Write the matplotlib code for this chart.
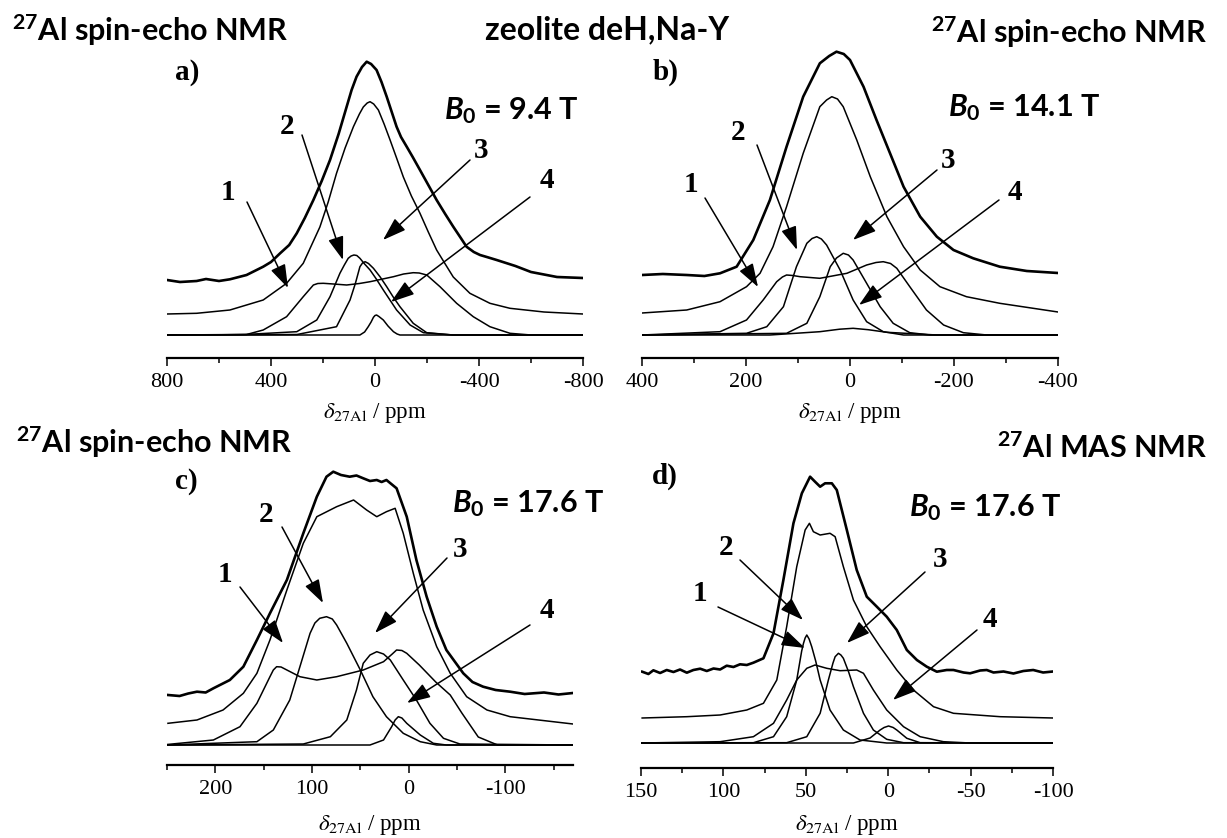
import matplotlib
matplotlib.use("Agg")
import numpy as np
import matplotlib.pyplot as plt
from matplotlib.ticker import MultipleLocator
from matplotlib.transforms import Affine2D

# ---- data: chemical shift (ppm) / intensity (a.u.) ----
# panel a) B0 = 9.4 T
a_exp_x = [800, 750, 686, 650, 600, 558, 494, 430, 400, 365, 330, 301, 270, 237, 205, 173, 140, 109, 90,
           71, 50, 32, 15, -6, -25, -45, -83, -100, -122, -145, -173, -205, -237, -270, -301, -330, -352,
           -380, -404, -430, -468, -540, -600, -700, -800]
a_exp_y = [0, -2, -1, 1, -1, 0.7, 5, 13.3, 18, 26.7, 35, 46.7, 62, 80, 99, 120, 146, 173.3, 190,
           203.3, 213, 218.3, 216, 210, 198, 183.3, 153.3, 143, 133.3, 123, 110, 95, 80, 66, 53.3, 42, 33.3,
           28, 25, 23, 20, 14, 8, 3, 2]
a_sim_x = [800, 686, 558, 430, 340, 276, 212, 180, 148, 115, 83, 60, 45, 30, 19, 5, -13, -35, -58, -83,
           -109, -140, -173, -205, -237, -270, -301, -365, -442, -519, -650, -800]
a_sim_y = [0, 0.7, 4, 14, 30.7, 50.7, 87, 112, 140.7, 166, 187.3, 200, 207, 211, 212.3, 210, 204, 190,
           174, 156, 137, 118, 100.7, 82, 64, 50, 37, 20.7, 10.7, 5.7, 2, 0]
a_c1_x = [800, 600, 494, 430, 340, 276, 237, 220, 199, 160, 109, 60, 19, -71, -110, -147, -170, -199,
          -250, -314, -378, -442, -519, -600, -800]
a_c1_y = [0, 0.2, 0.5, 5, 18.3, 38.3, 50, 51.5, 51.7, 51, 50, 51.5, 53.3, 58.3, 61, 62.3, 62, 60,
          48.3, 31.7, 18.3, 8.3, 1.7, 0, 0]
a_c2_x = [800, 500, 301, 224, 173, 135, 118, 103, 92, 81, 70, 58, 40, 19, -5, -32, -83, -135, -186, -300, -800]
a_c2_y = [0, 0.5, 3.3, 15, 38.3, 61.7, 70, 76.7, 79, 80, 79.5, 76.7, 71, 65, 56, 45, 25, 10, 2.3, 0, 0]
a_c3_x = [800, 300, 148, 96, 75, 58, 48, 38, 25, 6, -20, -45, -70, -96, -147, -199, -300, -800]
a_c3_y = [0, 0.5, 8.3, 35, 52, 68.3, 72, 73.3, 71.5, 66.7, 58, 48.3, 38, 28.3, 11.7, 2.3, 0, 0]
a_c4_x = [800, 58, 40, 26, 15, 6, 0, -6, -15, -32, -50, -71, -85, -96, -800]
a_c4_y = [0, 0, 3, 8.3, 13, 17.7, 19.5, 20, 18.5, 15, 9, 3.3, 1, 0, 0]

# panel b) B0 = 14.1 T
b_exp_x = [400, 360, 314, 280, 250, 218, 186, 154, 122, 90, 58, 40, 26, 12, 0, -26, -51, -77, -103, -135,
           -167, -199, -237, -288, -340, -400]
b_exp_y = [0, 1, 0, -1, 1.7, 8.3, 35, 75, 128.3, 178.3, 211.7, 219, 223.3, 221, 215, 188.3, 155, 121.7,
           88.3, 58.3, 38.3, 25, 16.7, 8.3, 4, 2]
b_sim_x = [400, 314, 250, 199, 173, 148, 122, 90, 58, 45, 35, 24, 13, -13, -39, -71, -103, -135, -173,
           -224, -288, -400]
b_sim_y = [0, 3, 11.3, 26.3, 39.7, 66.3, 106.3, 159.7, 206.3, 213, 216.3, 214, 206.3, 173, 136.3, 96.3,
           66.3, 43, 26.3, 16.3, 9.7, 1]
b_c1_x = [400, 250, 199, 167, 141, 130, 122, 110, 96, 58, 6, -32, -50, -64, -78, -90, -115, -147, -180,
          -218, -263, -400]
b_c1_y = [0, 3.3, 15, 35, 53.3, 58, 60, 59.5, 58.3, 56.7, 61.7, 70, 72.5, 73.3, 71.5, 66.7, 48.3, 25,
          10, 2.3, 0, 0]
b_c2_x = [400, 199, 160, 128, 103, 83, 73, 64, 55, 45, 19, -6, -32, -64, -103, -400]
b_c2_y = [0, 1.7, 8.3, 28.3, 68.3, 91.7, 96.5, 98.3, 96, 90, 65, 35, 13.3, 3.3, 0, 0]
b_c3_x = [400, 122, 83, 58, 38, 26, 13, 3, -6, -32, -58, -83, -115, -154, -400]
b_c3_y = [0, 1.7, 11.7, 38.3, 68.3, 77, 81.7, 80, 75, 51.7, 28.3, 11.7, 2.3, 0, 0]
b_c4_x = [400, 154, 58, 20, -6, -35, -71, -167, -400]
b_c4_y = [0, 0, 3.3, 5.8, 6.7, 5.3, 2.7, 0, 0]

# panel c) B0 = 17.6 T, spin echo
c_exp_x = [249, 237, 228, 219, 210, 202, 185, 171, 157, 143.5, 126, 109, 95, 85, 78, 70, 61, 54, 47,
           40, 33, 28, 23, 12.5, 2, -8, -18.6, -29, -39, -56.5, -66, -77, -90, -105, -120, -140, -155, -170]
c_exp_y = [0, -1, 1.5, 3.3, 2.5, 6.7, 15, 28.3, 55, 81.7, 115, 161.7, 198.3, 218.3, 223.3, 220, 218.3,
           219.5, 216.7, 214, 215, 213, 215, 206.7, 178.3, 135, 98.3, 68.3, 45, 21.7, 13, 8.3, 5, 3.3, 1,
           2.5, 0.5, 2]
c_sim_x = [249, 219, 192, 171, 157, 143.5, 126, 109, 95, 74.5, 57, 43.5, 33, 23, 14, 5.6, -4.8, -15,
           -29, -43, -60, -81, -105, -170]
c_sim_y = [0.7, 4, 14, 30.7, 50.7, 84, 134, 180.7, 207.3, 217.3, 224, 214, 207.3, 212.3, 215.7, 190.7,
           150.7, 114, 77.3, 50.7, 27.3, 14, 7.3, 0]
c_c1_x = [250, 202, 174.5, 157, 143.5, 140, 136.6, 132, 126, 112.5, 95, 74.5, 47, 26, 17, 12.5, 7, 2,
          -11, -28, -43, -55, -72, -92, -170]
c_c1_y = [0.5, 5, 18.3, 41.7, 68.3, 75, 78.3, 78, 75, 68.3, 65, 68.3, 75, 83.3, 91, 95, 94.5, 91.7,
          80, 63, 50, 32, 8, 0, 0]
c_c2_x = [250, 157, 140, 123, 112.5, 102, 97, 92, 85, 79, 74.5, 64, 50, 37, 23, 5.6, -12, -29, -170]
c_c2_y = [0, 3.3, 15, 45, 78.3, 111.7, 122, 126.7, 128.3, 126, 120, 101.7, 75, 48.3, 28.3, 11.7, 3.3, 0, 0]
c_c3_x = [250, 109, 81, 64, 54, 47, 40, 33, 26, 19, 5.6, -8, -22, -36, -53, -170]
c_c3_y = [0, 1, 8.3, 25, 55, 81.7, 90, 93.3, 91, 85, 65, 45, 21.7, 6.7, 1, 0]
c_c4_x = [250, 40, 26, 17.6, 14, 10.7, 7, 2, -12, -25.5, -39, -170]
c_c4_y = [0, 0, 5, 18.3, 25, 28.3, 27, 21.7, 10, 1.7, 0, 0]

# panel d) B0 = 17.6 T, MAS
d_exp_x = [149.3, 145.5, 142.5, 138.4, 134.4, 130.3, 126.3, 122.2, 118.2, 114.1, 110.1, 106, 102, 98,
           93.9, 89.9, 85.8, 81.8, 75.7, 69.6, 63.6, 57.5, 52.4, 47.4, 44.4, 41.3, 38.3, 34.2, 31.2, 25.1,
           19.1, 13, 6.9, 0.9, -5.2, -11.3, -17.4, -23.4, -29.5, -35.5, -39.6, -45.7, -49.7, -55.8, -59.8,
           -63.9, -70, -76, -82, -88, -94, -100]
d_exp_y = [0.3, -2, 1.7, -1, 2, 0, 2.5, -0.7, 2, 3.3, 1, 3.5, 2.5, 6.3, 5, 7.7, 7, 9.3, 13.7, 38.7, 92,
           148.7, 178.7, 195.3, 190.3, 185.3, 188.7, 188.7, 182, 142, 102, 75.3, 65.3, 55.3, 42, 22, 12,
           5.3, 0.3, 2, 2, -0.5, -1.3, 1.5, 2, -0.5, 0.5, -1.5, 1, 2, -0.5, 0.5]
d_sim_x = [149.3, 122.2, 102, 85.8, 75.7, 67.6, 61.6, 55.5, 50.4, 47.8, 45.4, 41.3, 35.3, 32.2, 27.2,
           21.1, 13, 4.9, -5.2, -15.3, -27.5, -39.6, -68, -100]
d_sim_y = [0, 1.3, 3, 8, 14.7, 38, 91.3, 151.3, 188, 194.7, 186.3, 183, 184.7, 181.3, 151.3, 118, 91.3,
           71.3, 48, 28, 11.3, 4.7, 1.3, 0]
d_c1_x = [150, 102, 81.8, 69.6, 61.6, 55.5, 49.4, 44.4, 37.3, 29.2, 19.1, 15, 9, 0.9, -9.3, -19.4,
          -33.5, -49.7, -100]
d_c1_y = [0, 1.3, 6.3, 19.7, 43, 63, 74.7, 78, 74.7, 72.3, 73, 69.7, 53, 33, 16.3, 6.3, 1.3, 0, 0]
d_c2_x = [150, 81.8, 69.6, 61.6, 55.5, 52.5, 51.4, 50.4, 49.4, 48, 46.4, 44, 41.3, 35.3, 27.2, 17.1, 0.9, -100]
d_c2_y = [0, 0.3, 6.3, 26.3, 63, 92, 99.7, 105, 108, 104, 96.3, 82, 63, 33, 13, 3, 0, 0]
d_c3_x = [150, 61.6, 49.4, 41.3, 36.3, 33.5, 32.2, 30.2, 28.7, 27.2, 24, 21.1, 15, 9, 0.9, -9.3, -100]
d_c3_y = [0, 0.3, 6.3, 29.7, 63, 80, 86.3, 89.7, 88, 84.7, 71, 56.3, 29.7, 13, 3.7, 0.3, 0]
d_c4_x = [150, 21.1, 11, 4.9, 2.5, -0.2, -3, -5.2, -11.3, -19.4, -100]
d_c4_y = [0, 0, 5, 13, 15.5, 17, 15.5, 13, 4.7, 0.3, 0]

# ---- styling ----
plt.rcParams["font.family"] = ["Liberation Serif", "DejaVu Serif"]
plt.rcParams["axes.unicode_minus"] = False
plt.rcParams["mathtext.fontset"] = "custom"
plt.rcParams["mathtext.rm"] = "Lato:bold"
plt.rcParams["mathtext.it"] = "Lato:italic:bold"
plt.rcParams["mathtext.bf"] = "Lato:bold"

W, H = 1227, 838
fig = plt.figure(figsize=(W / 100, H / 100), dpi=100)
# pixel coordinates of the picture, origin top-left
pix = Affine2D().scale(1 / W, -1 / H).translate(0, 1) + fig.transFigure


def panel(left, right, axis_y, base_y, top_y, xlim, major, minor):
    ax = fig.add_axes([left / W, 1 - axis_y / H, (right - left) / W, (axis_y - top_y) / H])
    ax.patch.set_visible(False)
    ax.set_xlim(*xlim)
    ax.set_ylim(-(axis_y - base_y), base_y - top_y)
    for s in ["left", "right", "top"]:
        ax.spines[s].set_visible(False)
    ax.spines["bottom"].set_linewidth(1.6)
    ax.set_yticks([])
    ax.xaxis.set_major_locator(MultipleLocator(major))
    ax.xaxis.set_minor_locator(MultipleLocator(minor))
    ax.tick_params(axis="x", which="major", direction="out", length=6, width=1.1, pad=5, labelsize=16)
    ax.tick_params(axis="x", which="minor", direction="out", length=3.5, width=1.1)
    return ax


def curves(ax, exp, sim, comps, exp_off, sim_off):
    ax.plot(exp[0], np.array(exp[1]) + exp_off, color="black", lw=1.9, solid_joinstyle="round")
    ax.plot(sim[0], np.array(sim[1]) + sim_off, color="black", lw=1.1, solid_joinstyle="round")
    for cx, cy in comps:
        ax.plot(cx, cy, color="black", lw=1.1, solid_joinstyle="round")


ax_a = panel(167, 583, 358, 335, 40, (800, -800), 400, 200)
curves(ax_a, (a_exp_x, a_exp_y), (a_sim_x, a_sim_y),
       [(a_c1_x, a_c1_y), (a_c2_x, a_c2_y), (a_c3_x, a_c3_y), (a_c4_x, a_c4_y)], 55, 21)

ax_b = panel(642, 1058, 358, 335, 40, (400, -400), 200, 100)
curves(ax_b, (b_exp_x, b_exp_y), (b_sim_x, b_sim_y),
       [(b_c1_x, b_c1_y), (b_c2_x, b_c2_y), (b_c3_x, b_c3_y), (b_c4_x, b_c4_y)], 60, 22)

ax_c = panel(167, 573, 765, 745, 460, (250, -170), 100, 50)
curves(ax_c, (c_exp_x, c_exp_y), (c_sim_x, c_sim_y),
       [(c_c1_x, c_c1_y), (c_c2_x, c_c2_y), (c_c3_x, c_c3_y), (c_c4_x, c_c4_y)], 50, 21)

ax_d = panel(641, 1053, 768, 743, 460, (150, -100), 50, 25)
curves(ax_d, (d_exp_x, d_exp_y), (d_sim_x, d_sim_y),
       [(d_c1_x, d_c1_y), (d_c2_x, d_c2_y), (d_c3_x, d_c3_y), (d_c4_x, d_c4_y)], 71, 25)

# x labels
xlab = r"$\delta_{\mathrm{27Al}}$ / ppm"
for cx, cy in [(375, 413), (850, 413), (370, 825), (847, 825)]:
    fig.text(cx, cy, xlab, transform=pix, ha="center", va="center", fontsize=16.5,
             math_fontfamily="stix")

# headers
head = dict(transform=pix, fontweight="bold", family="Lato", va="baseline")
fig.text(12, 41, r"$^{27}$Al spin-echo NMR", ha="left", fontsize=22, **head)
fig.text(485, 39, "zeolite deH,Na-Y", ha="left", fontsize=23, **head)
fig.text(1207, 43, r"$^{27}$Al spin-echo NMR", ha="right", fontsize=22, **head)
fig.text(16, 453, r"$^{27}$Al spin-echo NMR", ha="left", fontsize=22, **head)
fig.text(1207, 458, r"$^{27}$Al MAS NMR", ha="right", fontsize=22, **head)

# field strengths
for x, y, s in [(444, 119, "9.4"), (948, 116, "14.1"), (452, 512, "17.6"), (909, 516, "17.6")]:
    fig.text(x, y, r"$B_0$ = %s T" % s, transform=pix, ha="left", va="baseline",
             fontsize=22, fontweight="bold", family="Lato")

# panel letters
for x, y, s in [(175, 72, "a)"), (653, 72, "b)"), (175, 481, "c)"), (652, 476, "d)")]:
    fig.text(x, y, s, transform=pix, ha="left", va="center", fontsize=21, fontweight="bold")

# component numbers with arrows: label position, arrow tail, arrow head (pixels)
marks = [
    ("1", (228, 192), (247, 202), (288, 288)),
    ("2", (287, 127), (302, 135), (343, 260)),
    ("3", (481, 151), (470, 160), (383, 240)),
    ("4", (547, 180), (530, 197), (391, 302)),
    ("1", (691, 184), (705, 198), (758, 287)),
    ("2", (738, 132), (757, 145), (797, 250)),
    ("3", (948, 161), (937, 170), (853, 240)),
    ("4", (1015, 192), (999, 200), (859, 305)),
    ("1", (225, 574), (240, 587), (283, 643)),
    ("2", (266, 514), (282, 527), (323, 603)),
    ("3", (460, 549), (447, 558), (375, 633)),
    ("4", (547, 610), (530, 625), (407, 703)),
    ("2", (726, 547), (740, 560), (803, 620)),
    ("1", (700, 593), (718, 607), (805, 648)),
    ("3", (940, 559), (925, 572), (847, 643)),
    ("4", (990, 619), (977, 630), (893, 700)),
]
for s, lab, tail, head_pt in marks:
    fig.text(lab[0], lab[1], s, transform=pix, ha="center", va="center", fontsize=21, fontweight="bold")
    ax_a.annotate("", xy=head_pt, xytext=tail, xycoords=pix, textcoords=pix,
                  arrowprops=dict(arrowstyle="-|>,head_length=0.9,head_width=0.3", color="black",
                                  lw=1.1, mutation_scale=16, shrinkA=0, shrinkB=0))

fig.savefig("out.png", dpi=100)
